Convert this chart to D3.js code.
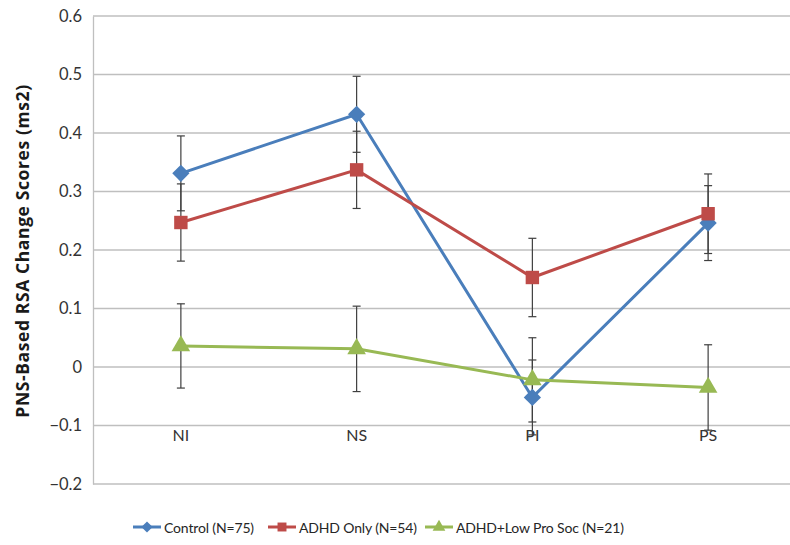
<!DOCTYPE html>
<html lang="en">
  <head>
    <meta charset="utf-8">
    <title>PNS-Based RSA Change Scores</title>
    <style type="text/css">
      body{
        margin: 0;
        background-color: white;
        font-family: Lato, "Open Sans", sans-serif;
      }
      .grid line{
        stroke: #bfbfbf;
        stroke-width: 1.3;
      }
      .tick text{
        fill: #333333;
      }
    </style>
  </head>
  <body>
    <div id='svg_container'></div>

    <script src="https://d3js.org/d3.v7.min.js"></script>
    <script type="text/javascript">

      const categories = ['NI', 'NS', 'PI', 'PS'];
      const yTicks = [0.6, 0.5, 0.4, 0.3, 0.2, 0.1, 0, -0.1, -0.2];

      const seriesNames = ['Control (N=75)', 'ADHD Only (N=54)', 'ADHD+Low Pro Soc (N=21)'];
      const controlVals = [0.331, 0.432, -0.052, 0.246];
      const controlErr  = [0.064, 0.065, 0.064, 0.064];
      const adhdVals    = [0.247, 0.337, 0.153, 0.262];
      const adhdErr     = [0.066, 0.066, 0.067, 0.068];
      const lowProVals  = [0.036, 0.031, -0.022, -0.035];
      const lowProErr   = [0.072, 0.073, 0.072, 0.073];

      const colors = ['#4a7ebb', '#be4b48', '#98b954'];
      const shapes = [d3.symbolDiamond2, d3.symbolSquare, d3.symbolTriangle];

      const w = 790, h = 545;
      const padL = 93, padT = 16, padB = 484, padR = 796;

      const series = [
        {name: seriesNames[0], vals: controlVals, err: controlErr},
        {name: seriesNames[1], vals: adhdVals, err: adhdErr},
        {name: seriesNames[2], vals: lowProVals, err: lowProErr}
      ];

      const svg = d3.select('#svg_container').append('svg').attr('width', w).attr('height', h);

      const scaleX = d3.scaleBand().domain(categories).range([padL, padR]);
      const scaleY = d3.scaleLinear().domain([-0.2, 0.6]).range([padB, padT]);

      // gridlines
      svg.append('g').attr('class', 'grid')
        .selectAll('line').data(yTicks).enter().append('line')
        .attr('x1', padL).attr('x2', padR)
        .attr('y1', d => scaleY(d)).attr('y2', d => scaleY(d));

      // y axis
      const yAxis = d3.axisLeft(scaleY).tickValues(yTicks).tickSize(0).tickPadding(11)
        .tickFormat(d => d === 0 ? '0' : d3.format('.1f')(d));
      const yg = svg.append('g').attr('transform', 'translate(' + padL + ',0)').call(yAxis);
      yg.select('.domain').attr('stroke', '#bfbfbf').attr('stroke-width', 1.3);
      yg.selectAll('text').style('font-size', '16.5px').style('font-family', 'Lato, sans-serif');

      // category labels
      const xAxis = d3.axisBottom(scaleX).tickSize(0).tickPadding(4);
      const xg = svg.append('g').attr('transform', 'translate(0,' + scaleY(-0.1) + ')').call(xAxis);
      xg.select('.domain').remove();
      xg.selectAll('text').style('font-size', '16px').style('font-family', 'Lato, sans-serif');

      svg.append('text').text('PNS-Based RSA Change Scores (ms2)')
        .attr('transform', 'translate(29,' + (scaleY(0.2) + 1) + ') rotate(-90)')
        .attr('text-anchor', 'middle')
        .style('font-family', '"Open Sans", sans-serif')
        .style('font-size', '17.5px').style('letter-spacing', '0.6px')
        .style('font-weight', 'bold').style('fill', '#1a1a1a');

      const cx = (i) => scaleX(categories[i]) + scaleX.bandwidth() / 2;

      // error bars
      series.forEach(function(s){
        const g = svg.append('g').attr('stroke', '#3f3f3f').attr('stroke-width', 1.2);
        s.vals.forEach(function(v, i){
          const x = cx(i), y1 = scaleY(v + s.err[i]), y2 = scaleY(v - s.err[i]);
          g.append('line').attr('x1', x).attr('x2', x).attr('y1', y1).attr('y2', y2);
          g.append('line').attr('x1', x - 4).attr('x2', x + 4).attr('y1', y1).attr('y2', y1);
          g.append('line').attr('x1', x - 4).attr('x2', x + 4).attr('y1', y2).attr('y2', y2);
        });
      });

      const line = d3.line().x((d, i) => cx(i)).y(d => scaleY(d));

      series.forEach(function(s, k){
        svg.append('path').datum(s.vals).attr('d', line)
          .attr('fill', 'none').attr('stroke', colors[k]).attr('stroke-width', 3);
        svg.selectAll('.m' + k).data(s.vals).enter().append('path')
          .attr('class', 'm' + k)
          .attr('d', d3.symbol().type(shapes[k]).size(k === 2 ? 150 : (k === 0 ? 190 : 180)))
          .attr('transform', (d, i) => 'translate(' + cx(i) + ',' + scaleY(d) + ')')
          .attr('fill', colors[k]);
      });

      // legend
      const legX = [133, 268, 425];
      const legY = 527;
      series.forEach(function(s, k){
        const g = svg.append('g').attr('transform', 'translate(' + legX[k] + ',' + legY + ')');
        g.append('line').attr('x1', 0).attr('x2', 28).attr('y1', 0).attr('y2', 0)
          .attr('stroke', colors[k]).attr('stroke-width', 3);
        g.append('path').attr('d', d3.symbol().type(shapes[k]).size(k === 2 ? 70 : 80))
          .attr('transform', 'translate(14,0)').attr('fill', colors[k]);
        g.append('text').text(s.name).attr('x', 31).attr('y', 5.5)
          .style('font-size', '14px').style('letter-spacing', '-0.15px').style('fill', '#262626');
      });
    </script>
  </body>
</html>
